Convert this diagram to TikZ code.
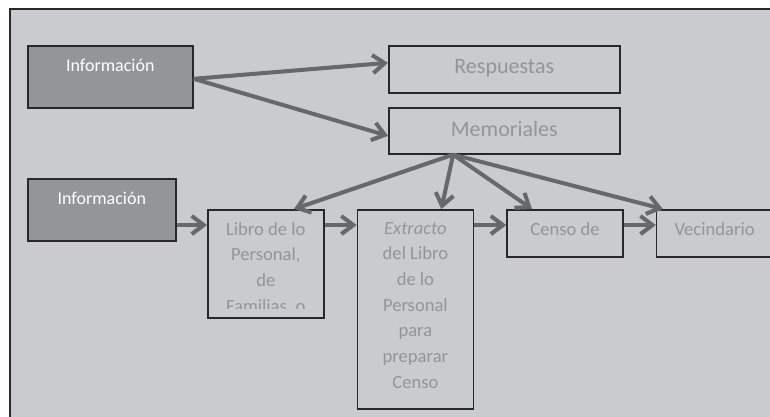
\documentclass[tikz,border=0pt]{standalone}
\usepackage{fontspec}
\setmainfont{Carlito}
\usetikzlibrary{positioning,arrows.meta,calc}
\definecolor{framefill}{RGB}{202,203,205}
\definecolor{framedraw}{RGB}{40,40,42}
\definecolor{darkfill}{RGB}{147,149,152}
\definecolor{lighttext}{RGB}{148,149,151}
\definecolor{arrowgray}{RGB}{103,104,107}
\definecolor{arrowshade}{RGB}{163,163,165}
\tikzset{
	chart/.style={x=1pt,y=-1pt},
	darkbox/.style={draw=framedraw,line width=1.6pt,fill=darkfill,anchor=north west,inner sep=0pt},
	lightbox/.style={draw=framedraw,line width=1.6pt,anchor=north west,inner sep=0pt},
	whitetext/.style={text=white,font=\fontsize{18}{22}\selectfont,align=center,anchor=north,inner sep=0pt},
	greytext/.style={text=lighttext,font=\fontsize{18.6}{25.7}\selectfont,align=center,anchor=north,inner sep=0pt},
	bigtext/.style={greytext,font=\fontsize{22}{25.7}\selectfont},
	flow/.style={-{Straight Barb[length=12pt,width=18pt]},line width=4pt,draw=arrowgray,
		preaction={draw=arrowshade,transform canvas={xshift=1.5pt,yshift=-1.5pt}}}
}

\begin{document}
\begin{tikzpicture}[chart]
	
	\useasboundingbox (0,0) rectangle (770,417);
	\fill[framefill] (9.5,9.5) rectangle (770,417);
	\draw[framedraw,line width=2pt] (770,9.5) -- (9.5,9.5) -- (9.5,417);
	
	% sources
	\node[darkbox,minimum width=165pt,minimum height=62pt] (info1) at (27,45) {};
	\node[darkbox,minimum width=148pt,minimum height=62pt] (info2) at (27,178) {};
	
	% documents
	\node[lightbox,minimum width=231pt,minimum height=47pt] (resp) at (388,45) {};
	\node[lightbox,minimum width=231pt,minimum height=46pt] (mem) at (388,107) {};
	\node[lightbox,minimum width=116pt,minimum height=108pt] (libro) at (207,209) {};
	\node[lightbox,minimum width=116pt,minimum height=199pt] (extr) [right=32pt of libro.north east,anchor=north west] {};
	\node[lightbox,minimum width=116pt,minimum height=47pt] (censo) [right=32pt of extr.north east,anchor=north west] {};
	\node[lightbox,minimum width=116pt,minimum height=47pt] (vecin) [right=32pt of censo.north east,anchor=north west] {};
	
	% texts
	\node[whitetext] (info1txt) at ([yshift=-14pt]info1.north) {Información};
	\node[whitetext] (info2txt) at ([yshift=-14pt]info2.north) {Información};
	\node[bigtext] (resptxt) at ([yshift=-14pt]resp.north) {Respuestas};
	\node[bigtext] (memtxt) at ([yshift=-14pt]mem.north) {Memoriales};
	\begin{scope}
		\clip (libro.north west) rectangle ([yshift=10pt]libro.south east);
		\node[greytext] (librotxt) at ([yshift=-13pt]libro.north) {Libro de lo\\Personal,\\de\\Familias, o};
	\end{scope}
	\node[greytext] (extrtxt) at ([yshift=-13pt]extr.north) {\textit{Extracto}\\del Libro\\de lo\\Personal\\para\\preparar\\Censo};
	\node[greytext] (censotxt) at ([yshift=-13pt]censo.north) {Censo de};
	\node[greytext] (vecintxt) at ([yshift=-13pt]vecin.north) {Vecindario};
	
	% connectors
	\coordinate (fan) at ($(mem.south west)!0.28!(mem.south east)$);
	\coordinate (row) at (0,225);
	\draw[flow] ([yshift=-2pt]info1.east) -- ([yshift=6.5pt]resp.west);
	\draw[flow] ([yshift=-2pt]info1.east) -- ([yshift=-5pt]mem.west);
	\draw[flow] (fan) -- ($(libro.north west)!0.74!(libro.north east)$);
	\draw[flow] (fan) -- ($(extr.north west)!0.72!(extr.north east)$);
	\draw[flow] (fan) -- ($(censo.north west)!0.22!(censo.north east)$);
	\draw[flow] (fan) -- ($(vecin.north west)!0.06!(vecin.north east)$);
	\draw[flow] (info2.east |- row) -- (libro.west |- row);
	\draw[flow] (libro.east |- row) -- (extr.west |- row);
	\draw[flow] (extr.east |- row) -- (censo.west |- row);
	\draw[flow] (censo.east |- row) -- (vecin.west |- row);
	
\end{tikzpicture}
\end{document}
